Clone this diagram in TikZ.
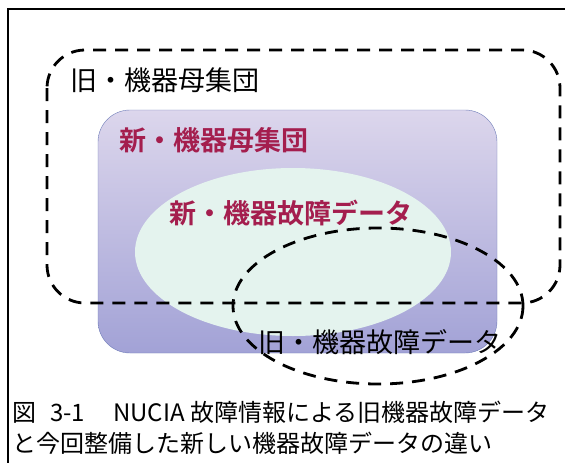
\documentclass[tikz,border=0pt]{standalone}
\usepackage{fontspec}
\setmainfont{Noto Sans CJK JP}[BoldFont={Noto Sans CJK JP Bold}]
\definecolor{poptop}{RGB}{220,214,236}
\definecolor{popbottom}{RGB}{162,162,214}
\definecolor{popedge}{RGB}{110,124,184}
\definecolor{datafill}{RGB}{228,243,238}
\definecolor{newred}{RGB}{164,30,78}
\begin{document}
\begin{tikzpicture}[x=1pt, y=-1pt,
    olddash/.style = {black, line width=2.8pt, dash pattern=on 13pt off 9pt},
    biglabel/.style = {anchor=west, inner sep=0pt, font=\fontsize{27}{32}\selectfont},
    newlabel/.style = {biglabel, newred, font=\fontsize{27}{32}\selectfont\bfseries},
    capline/.style = {anchor=west, inner sep=0pt, font=\fontsize{24}{28}\selectfont}]
            \useasboundingbox (0,0) rectangle (565,463);
            \fill[white] (0,0) rectangle (565,463);
            \draw[black, line width=2pt] (575,9) -- (8,9) -- (8,475);
            \shade[top color=poptop, bottom color=popbottom, draw=popedge, thin, rounded corners=32pt] (98,110) rectangle (497,353);
            \fill[datafill] (293,252) ellipse [x radius=158, y radius=84];
            \node[newlabel] (newpop) at (119,140) {新・機器母集団};
            \node[newlabel] (newdata) at (169,213) {新・機器故障データ};
            \draw[olddash, rounded corners=38pt] (47,50) rectangle (560,303);
            \draw[olddash] (378,306) ellipse [x radius=145, y radius=78];
            \node[biglabel] (oldpop) at (70,80) {旧・機器母集団};
            \node[biglabel] (olddata) at (258,342) {旧・機器故障データ};
            \node[capline] (capA) at (12,412) {図\hspace{14pt}3-1\hspace{28pt}NUCIA 故障情報による旧機器故障データ};
            \node[capline] (capB) at (12,443) {と今回整備した新しい機器故障データの違い};
        \end{tikzpicture}
\end{document}
